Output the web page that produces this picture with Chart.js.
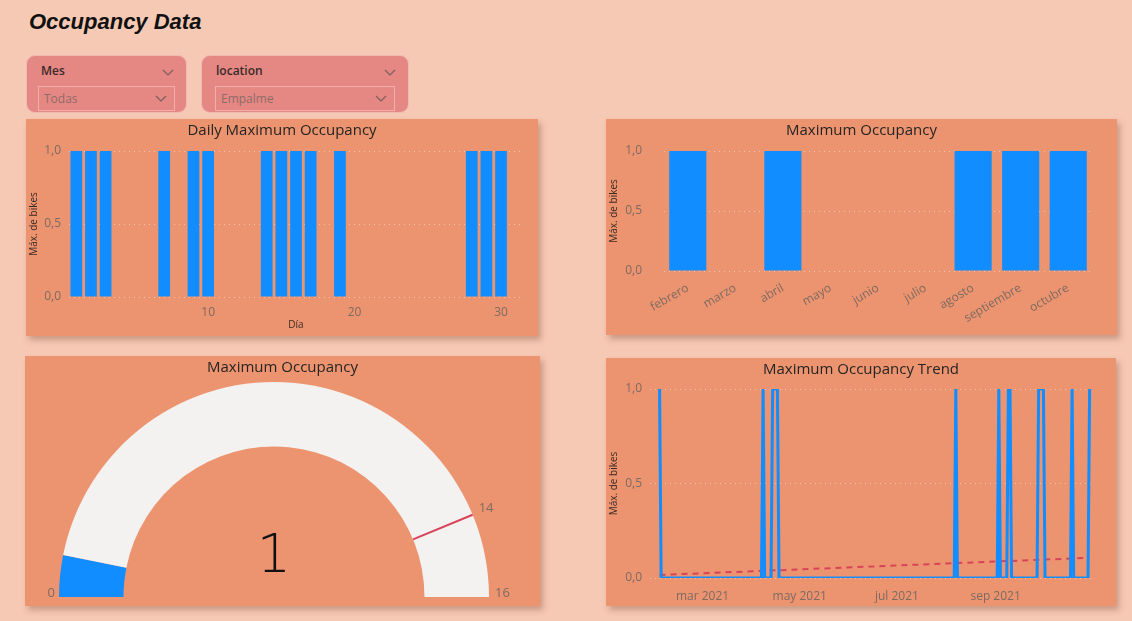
<!DOCTYPE html>
<html>
<head>
<meta charset="utf-8">
<title>Occupancy Data</title>
<script src="https://cdn.jsdelivr.net/npm/chart.js@4.4.0/dist/chart.umd.min.js"></script>
<style>
  body { margin: 0; background: #F6C9B4; font-family: 'Open Sans', sans-serif; }
  #page { position: relative; width: 1132px; height: 621px; overflow: hidden; }
  h1 { position: absolute; left: 29px; top: 9px; margin: 0; font: italic bold 22px 'Liberation Sans', Arial, sans-serif; color: #111; }
  .slicer { position: absolute; top: 55px; height: 58px; background: #E58884; border: 1px solid #F3B9AF; border-radius: 9px; box-sizing: border-box; }
  .slicer .head { position: absolute; left: 14px; top: 6px; font-size: 12px; font-weight: 600; color: #3a2a28; }
  .slicer .box { position: absolute; left: 11px; right: 11px; top: 30px; height: 25px; border: 1px solid #F0B0A8; box-sizing: border-box; font-size: 12px; color: #8f6b68; padding: 3px 0 0 5px; }
  .slicer svg { position: absolute; right: 7px; }
  .panel { position: absolute; background: #EC946F; box-shadow: 3px 4px 6px rgba(120, 60, 40, .35); }
  .panel .title { position: absolute; left: 0; right: 0; top: 0; text-align: center; font-size: 15px; color: #252423; }
  .panel canvas { position: absolute; left: 0; top: 0; }
</style>
</head>
<body>
<div id="page">
  <h1>Occupancy Data</h1>

  <div class="slicer" style="left:26px;width:161px">
    <div class="head">Mes</div>
    <svg style="top:13px;right:12px" width="12" height="7"><polyline points="1,1 6,6 11,1" fill="none" stroke="#7a5f5c" stroke-width="1.2"/></svg>
    <div class="box">Todas
      <svg style="top:8px" width="12" height="7"><polyline points="1,1 6,6 11,1" fill="none" stroke="#7a5f5c" stroke-width="1.2"/></svg>
    </div>
  </div>
  <div class="slicer" style="left:201px;width:208px">
    <div class="head">location</div>
    <svg style="top:13px;right:12px" width="12" height="7"><polyline points="1,1 6,6 11,1" fill="none" stroke="#7a5f5c" stroke-width="1.2"/></svg>
    <div class="box" style="left:13px;right:13px">Empalme
      <svg style="top:8px" width="12" height="7"><polyline points="1,1 6,6 11,1" fill="none" stroke="#7a5f5c" stroke-width="1.2"/></svg>
    </div>
  </div>

  <div class="panel" style="left:26px;top:119px;width:512px;height:217px">
    <canvas id="daily" width="512" height="217"></canvas>
    <div class="title">Daily Maximum Occupancy</div>
  </div>
  <div class="panel" style="left:606px;top:119px;width:511px;height:216px">
    <canvas id="monthly" width="511" height="216"></canvas>
    <div class="title">Maximum Occupancy</div>
  </div>
  <div class="panel" style="left:25px;top:356px;width:515px;height:250px">
    <canvas id="gauge" width="515" height="250"></canvas>
    <div class="title">Maximum Occupancy</div>
  </div>
  <div class="panel" style="left:606px;top:358px;width:510px;height:248px">
    <canvas id="trend" width="510" height="248"></canvas>
    <div class="title">Maximum Occupancy Trend</div>
  </div>
</div>

<script>
// max bikes per day of month
const days = [1,2,3,4,5,6,7,8,9,10,11,12,13,14,15,16,17,18,19,20,21,22,23,24,25,26,27,28,29,30,31];
const dailyMax = [1,1,1,0,0,0,1,0,1,1,0,0,0,1,1,1,1,0,1,0,0,0,0,0,0,0,0,1,1,1,0];
const dayTicks = [10, 20, 30];

// max bikes per month
const months = ['febrero','marzo','abril','mayo','junio','julio','agosto','septiembre','octubre'];
const monthlyMax = [1,0,1,0,0,0,1,1,1];

// gauge
const gaugeValue = 1;
const gaugeMax = 16;
const gaugeTarget = 14;

// trend line vertices (date, max bikes)
const trendDates = ['2021-02-02','2021-02-03','2021-04-07','2021-04-08','2021-04-09','2021-04-13','2021-04-14','2021-04-17','2021-04-18',
  '2021-08-06','2021-08-07','2021-08-08','2021-09-02','2021-09-03','2021-09-04','2021-09-08','2021-09-09','2021-09-10','2021-09-11',
  '2021-09-27','2021-09-28','2021-10-01','2021-10-02','2021-10-18','2021-10-19','2021-10-20','2021-10-29','2021-10-30'];
const trendValues = [1,0,0,1,0,0,1,1,0, 0,1,0,0,1,0,0,1,1,0, 0,1,1,0,0,1,0,0,1];
const fitDates = ['2021-02-02','2021-10-30'];
const fitValues = [0.016, 0.107];
const monthTickDates = ['2021-03-01','2021-05-01','2021-07-01','2021-09-01'];
const monthNames = ['ene','feb','mar','abr','may','jun','jul','ago','sep','oct','nov','dic'];

const blue = '#118DFF';
const tickColor = '#7d6a62';
const titleColor = '#3b2a24';
const gridColor = 'rgba(255,228,212,0.6)';

Chart.defaults.font.family = "'Open Sans', sans-serif";
Chart.defaults.animation = false;
Chart.defaults.plugins.legend.display = false;
Chart.defaults.plugins.tooltip.enabled = false;
Chart.defaults.events = [];

const dayNum = s => (Date.UTC(+s.slice(0,4), +s.slice(5,7) - 1, +s.slice(8,10)) - Date.UTC(2021,0,1)) / 864e5;
const fmt = v => v.toFixed(1).replace('.', ',');

function yAxis(width, pad) {
  return {
    min: 0, max: 1,
    afterFit: s => { s.width = width; },
    ticks: { stepSize: 0.5, color: tickColor, font: { size: 12 }, padding: pad, callback: fmt },
    grid: { color: gridColor, drawTicks: false },
    border: { display: false, dash: [1, 4] },
    title: { display: true, text: 'Máx. de bikes', color: titleColor, font: { size: 10 }, padding: 2 }
  };
}

new Chart(document.getElementById('daily'), {
  type: 'bar',
  data: { labels: days, datasets: [{ data: dailyMax, backgroundColor: blue, barPercentage: 0.8, categoryPercentage: 1 }] },
  options: {
    responsive: false,
    layout: { padding: { left: 0, right: 15, top: 32, bottom: 5 } },
    scales: {
      x: {
        afterFit: s => { s.height = 34; },
        grid: { display: false }, border: { display: false },
        ticks: { autoSkip: false, maxRotation: 0, color: tickColor, font: { size: 12 }, padding: 0,
          callback: (v, i) => dayTicks.includes(days[i]) ? days[i] : '' },
        title: { display: true, text: 'Día', color: titleColor, font: { size: 10 }, padding: 0 }
      },
      y: yAxis(43, 8)
    }
  }
});

new Chart(document.getElementById('monthly'), {
  type: 'bar',
  data: { labels: months, datasets: [{ data: monthlyMax, backgroundColor: blue, barPercentage: 0.78, categoryPercentage: 1 }] },
  options: {
    responsive: false,
    layout: { padding: { left: 0, right: 25, top: 32, bottom: 0 } },
    scales: {
      x: {
        afterFit: s => { s.height = 64; },
        grid: { display: false }, border: { display: false },
        ticks: { autoSkip: false, minRotation: 30, maxRotation: 30, color: tickColor, font: { size: 12 }, padding: 2 }
      },
      y: yAxis(58, 22)
    }
  }
});

// target marker, end labels and value for the gauge
const gaugeDecor = {
  id: 'gaugeDecor',
  afterDatasetsDraw(chart) {
    const arc = chart.getDatasetMeta(0).data[0];
    const { x, y, outerRadius: ro, innerRadius: ri } = arc.getProps(['x','y','outerRadius','innerRadius'], true);
    const ctx = chart.ctx;
    const a = Math.PI + Math.PI * gaugeTarget / gaugeMax;
    ctx.save();
    ctx.strokeStyle = '#D9435A';
    ctx.lineWidth = 2;
    ctx.beginPath();
    ctx.moveTo(x + ri * Math.cos(a), y + ri * Math.sin(a));
    ctx.lineTo(x + ro * Math.cos(a), y + ro * Math.sin(a));
    ctx.stroke();

    ctx.fillStyle = tickColor;
    ctx.font = "13px 'Open Sans'";
    ctx.textBaseline = 'alphabetic';
    ctx.textAlign = 'right';
    ctx.fillText('0', x - ro - 4, y);
    ctx.textAlign = 'left';
    ctx.fillText(String(gaugeMax), x + ro + 6, y);
    ctx.textBaseline = 'middle';
    ctx.fillText(String(gaugeTarget), x + ro * Math.cos(a) + 6, y + ro * Math.sin(a) - 6);

    ctx.fillStyle = '#111';
    ctx.textAlign = 'center';
    ctx.textBaseline = 'alphabetic';
    ctx.font = "200 54px 'DejaVu Sans'";
    ctx.fillText(String(gaugeValue), x, y - 25);
    ctx.restore();
  }
};

new Chart(document.getElementById('gauge'), {
  type: 'doughnut',
  data: { datasets: [{ data: [gaugeValue, gaugeMax - gaugeValue], backgroundColor: [blue, '#F3F2F1'], borderWidth: 0 }] },
  options: {
    responsive: false,
    circumference: 180, rotation: -90, cutout: '70%',
    layout: { padding: { left: 34, right: 51, top: 26, bottom: 9 } }
  },
  plugins: [gaugeDecor]
});

const trendX = trendDates.map(dayNum);
const monthTicks = monthTickDates.map(dayNum);

new Chart(document.getElementById('trend'), {
  type: 'line',
  data: {
    datasets: [
      { data: trendX.map((d, i) => ({ x: d, y: trendValues[i] })), borderColor: blue, borderWidth: 3, pointRadius: 0, tension: 0 },
      { data: fitDates.map((d, i) => ({ x: dayNum(d), y: fitValues[i] })), borderColor: '#D9435A', borderWidth: 2, borderDash: [6, 5], pointRadius: 0 }
    ]
  },
  options: {
    responsive: false,
    layout: { padding: { left: 0, right: 24, top: 31, bottom: 0 } },
    scales: {
      x: {
        type: 'linear', min: 26, max: 303.5,
        afterFit: s => { s.height = 28; },
        afterBuildTicks: s => { s.ticks = monthTicks.map(v => ({ value: v })); },
        grid: { display: false }, border: { display: false },
        ticks: { color: tickColor, font: { size: 12 }, padding: 3, maxRotation: 0,
          callback: v => {
            const d = new Date(Date.UTC(2021, 0, 1) + v * 864e5);
            return monthNames[d.getUTCMonth()] + ' ' + d.getUTCFullYear();
          } }
      },
      y: yAxis(44, 8)
    }
  }
});
</script>
</body>
</html>
